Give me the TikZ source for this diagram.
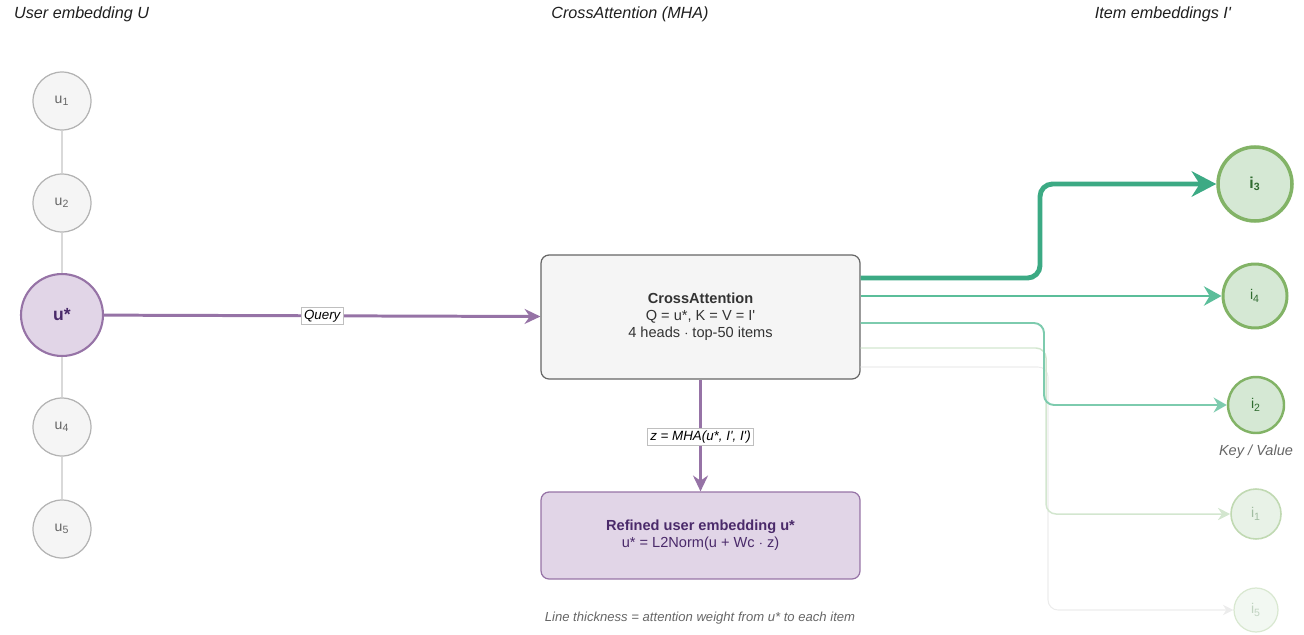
\documentclass[tikz,border=0pt]{standalone}
\usepackage{fontspec}
\setmainfont{Liberation Sans}
\usetikzlibrary{arrows.meta}

\definecolor{ubg}{HTML}{F5F5F5}
\definecolor{uline}{HTML}{B3B3B3}
\definecolor{utext}{HTML}{666666}
\definecolor{pfill}{HTML}{E1D5E7}
\definecolor{pline}{HTML}{9673A6}
\definecolor{ptext}{HTML}{4A2A6A}
\definecolor{gfill}{HTML}{D5E8D4}
\definecolor{gline}{HTML}{82B366}
\definecolor{gtext}{HTML}{2F6B2F}
\definecolor{wthree}{HTML}{3CAA84}
\definecolor{wfour}{HTML}{5BBE9A}
\definecolor{wtwo}{HTML}{7DCBAE}
\definecolor{wone}{HTML}{D3E6CF}
\definecolor{wfive}{HTML}{ECECEC}

\newcommand{\pr}{\textquotesingle}

\tikzset{
  title/.style={font=\fontsize{9.2}{11}\selectfont\itshape, text=black!88},
  unode/.style={circle, draw=uline, fill=ubg, line width=0.7pt, minimum size=1.16cm, inner sep=0pt, text=utext, font=\fontsize{8}{9}\selectfont},
  inode/.style={circle, draw=gline, fill=gfill, inner sep=0pt, text=gtext, font=\fontsize{8}{9}\selectfont},
  box/.style={draw=black!60, fill=ubg, line width=0.7pt, rounded corners=0.16cm, minimum width=6.38cm, align=center, text=black!80, font=\fontsize{8.3}{9.8}\selectfont},
  elabel/.style={draw=black!25, fill=white, line width=0.3pt, inner sep=1.5pt, text=black, font=\fontsize{7.6}{9}\selectfont\itshape},
  purp/.style={draw=pline, line width=1.7pt, -{Stealth[length=9pt,width=8.5pt]}},
}

\begin{document}
\begin{tikzpicture}[x=0.02cm, y=-0.02cm]
  \useasboundingbox (0,0) rectangle (1304,635);

  % titles
  \node[title, anchor=west] (tu) at (8,14) {User embedding U};
  \node[title] (tc) at (630,14) {CrossAttention (MHA)};
  \node[title] (ti) at (1163,14) {Item embeddings I\pr};

  % user embeddings
  \node[unode] (u1) at (62,101) {u\textsubscript{1}};
  \node[unode] (u2) at (62,203) {u\textsubscript{2}};
  \node[unode, draw=pline, fill=pfill, line width=1.2pt, minimum size=1.64cm, text=ptext, font=\fontsize{10}{12}\selectfont\bfseries] (us) at (62,315) {u*};
  \node[unode] (u4) at (62,427) {u\textsubscript{4}};
  \node[unode] (u5) at (62,529) {u\textsubscript{5}};
  \draw[black!15, line width=0.6pt] (u1) -- (u2) -- (us) -- (u4) -- (u5);

  % attention block + result
  \node[box, minimum height=2.48cm] (ca) at (700.5,317) {\textbf{CrossAttention}\\Q = u*, K = V = I\pr\\4 heads $\cdot$ top-50 items};
  \node[box, draw=pline, fill=pfill, minimum height=1.74cm, text=ptext] (rf) at (700.5,535.5) {\textbf{Refined user embedding u*}\\u* = L2Norm(u + Wc $\cdot$ z)};
  \draw[purp] (us) -- node[elabel] {Query} (ca);
  \draw[purp] (ca) -- node[elabel, pos=0.51] {z = MHA(u*, I\pr, I\pr)} (rf);

  % item embeddings
  \node[inode, line width=2pt, minimum size=1.48cm, font=\fontsize{9}{10}\selectfont\bfseries] (i3) at (1255,184) {i\textsubscript{3}};
  \node[inode, line width=1.7pt, minimum size=1.28cm] (i4) at (1255,296) {i\textsubscript{4}};
  \node[inode, line width=1.4pt, minimum size=1.12cm] (i2) at (1256,405) {i\textsubscript{2}};
  \node[inode, draw=gline!50, fill=gfill!55, line width=0.9pt, minimum size=1cm, text=gtext!45] (i1) at (1256,514) {i\textsubscript{1}};
  \node[inode, draw=gline!30, fill=gfill!30, line width=0.7pt, minimum size=0.88cm, text=gtext!30] (i5) at (1256,610) {i\textsubscript{5}};
  \node[font=\fontsize{8.3}{10}\selectfont\itshape, text=utext] (kv) at (1256,452) {Key / Value};

  % weighted edges
  \coordinate (b3) at (1040,0);
  \coordinate (b2) at (1044,0);
  \coordinate (b1) at (1046,0);
  \coordinate (b5) at (1048,0);
  \draw[wfive, line width=0.6pt, rounded corners=0.2cm, -{Stealth[length=6pt,width=6pt]}] ([yshift=-1cm]ca.east) -| (b5 |- i5) -- (i5);
  \draw[wone, line width=0.85pt, rounded corners=0.2cm, -{Stealth[length=7pt,width=7pt]}] ([yshift=-0.62cm]ca.east) -| (b1 |- i1) -- (i1);
  \draw[wtwo, line width=1.1pt, rounded corners=0.2cm, -{Stealth[length=7.5pt,width=8.5pt]}] ([yshift=-0.12cm]ca.east) -| (b2 |- i2) -- (i2);
  \draw[wfour, line width=1.7pt, -{Stealth[length=10pt,width=11pt]}] (ca.east |- i4) -- (i4);
  \draw[wthree, line width=2.8pt, rounded corners=0.25cm, -{Stealth[length=14pt,width=14.5pt]}] ([yshift=0.78cm]ca.east) -| (b3 |- i3) -- (i3);

  % footnote
  \node[font=\fontsize{7.45}{9}\selectfont\itshape, text=utext] (fn) at (700,618) {Line thickness = attention weight from u* to each item};
\end{tikzpicture}
\end{document}
